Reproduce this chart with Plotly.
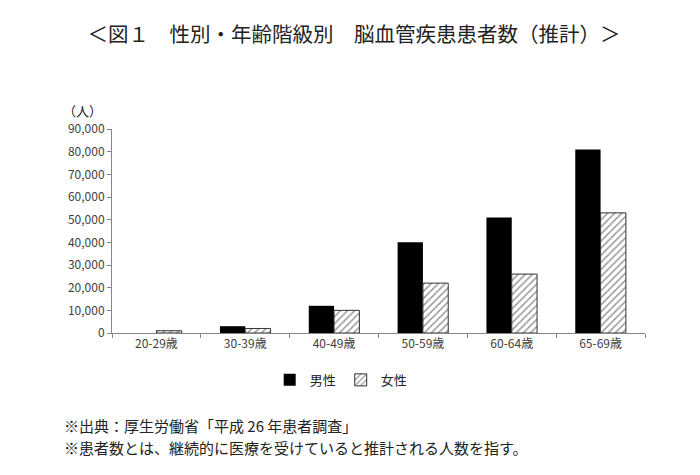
import plotly.graph_objects as go

# data
ageGroups = ["20-29歳", "30-39歳", "40-49歳", "50-59歳", "60-64歳", "65-69歳"]
maleCounts = [0, 3000, 12000, 40000, 51000, 81000]
femaleCounts = [1000, 2000, 10000, 22000, 26000, 53000]
seriesNames = ["男性", "女性"]
yTicks = [0, 10000, 20000, 30000, 40000, 50000, 60000, 70000, 80000, 90000]

jpFont = "Noto Sans CJK JP"
axisColor = "#868686"
textColor = "#404040"

# page body has an 8px margin, so the figure is a bit smaller than the window
fig = go.Figure()
fig.add_trace(go.Bar(x=ageGroups, y=maleCounts, name=seriesNames[0],
                     marker=dict(color="black", line=dict(color="black", width=0))))
fig.add_trace(go.Bar(x=ageGroups, y=femaleCounts, name=seriesNames[1],
                     marker=dict(color="white", line=dict(color="#333333", width=1),
                                 pattern=dict(shape="/", fgcolor="#333333", bgcolor="white",
                                              size=5, solidity=0.3))))

fig.update_layout(
    width=692, height=467,
    paper_bgcolor="white", plot_bgcolor="white",
    margin=dict(l=104, r=55, t=121, b=142),
    barmode="group", bargap=0.43, bargroupgap=0,
    font=dict(family=jpFont, size=12, color=textColor),
    title=dict(text="＜図１　性別・年齢階級別　脳血管疾患患者数（推計）＞",
               x=0.5, xanchor="center", y=1 - 27 / 467, yanchor="middle",
               font=dict(family=jpFont, size=20.5, color="#222222")),
    showlegend=True,
    legend=dict(orientation="h", x=0.43, xanchor="center", y=-0.23, yanchor="middle",
                font=dict(family=jpFont, size=13, color="#222222"),
                itemwidth=30, traceorder="normal"),
)
fig.update_xaxes(showline=True, linecolor=axisColor, linewidth=1,
                 ticks="outside", tickson="boundaries", ticklen=4, tickcolor=axisColor,
                 showgrid=False, tickfont=dict(size=12, color=textColor))
fig.update_yaxes(range=[0, 90000], tickvals=yTicks, tickformat=",", showline=True,
                 linecolor=axisColor, linewidth=1, ticks="outside", ticklen=4,
                 tickcolor=axisColor, showgrid=False, zeroline=False,
                 tickfont=dict(size=12, color=textColor))

fig.add_annotation(text="（人）", xref="paper", yref="paper", x=-0.056, y=1.093,
                   xanchor="center", yanchor="middle", showarrow=False,
                   font=dict(size=13, color="#222222"))
fig.add_annotation(text="※出典：厚生労働省「平成 26 年患者調査」", xref="paper", yref="paper",
                   x=-0.094, y=-0.451, xanchor="left", yanchor="middle", showarrow=False,
                   font=dict(size=15, color="#222222"))
fig.add_annotation(text="※患者数とは、継続的に医療を受けていると推計される人数を指す。",
                   xref="paper", yref="paper", x=-0.094, y=-0.559, xanchor="left",
                   yanchor="middle", showarrow=False, font=dict(size=15, color="#222222"))

fig.write_html("out.html")
